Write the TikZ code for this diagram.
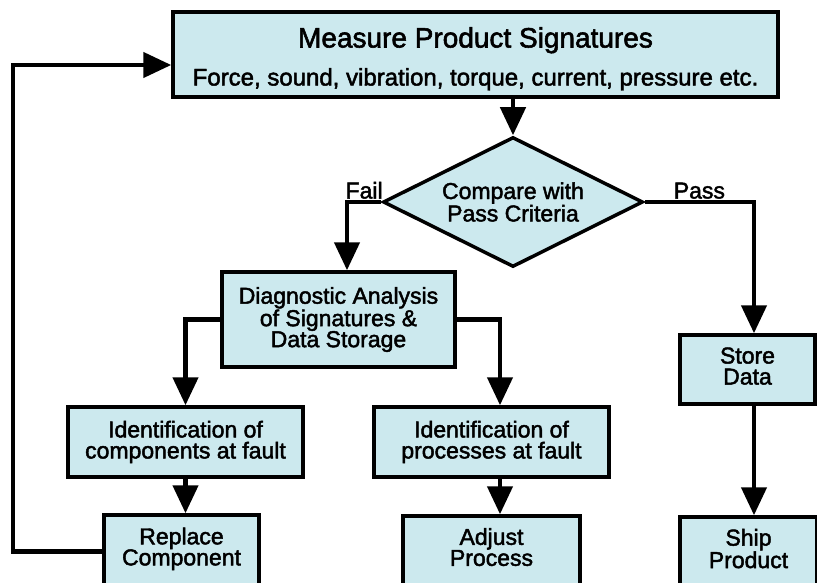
\documentclass[tikz,border=0pt]{standalone}
\usepackage{fontspec}
\setmainfont{Liberation Sans}[FakeBold=2]
\usetikzlibrary{positioning, shapes.geometric, arrows.meta}
\definecolor{boxfill}{RGB}{204,233,238}

\begin{document}
\begin{tikzpicture}[x=1pt, y=-1pt,
        box/.style={draw, fill=boxfill, line width=3.5pt, align=center, inner sep=0pt,
            font=\fontsize{23}{21}\selectfont},
        flow/.style={line width=4.5pt, -{Triangle[length=28pt, width=25pt]}},
        tag/.style={inner sep=1pt, font=\fontsize{23}{23}\selectfont}]
            \useasboundingbox (0,0) rectangle (817,583);
            \node[box, minimum width=605pt, minimum height=85pt, font=\fontsize{24}{38}\selectfont] (measure) at (475.5,54.5)
                {\rule{0pt}{29pt}{\fontsize{28}{28}\selectfont Measure Product Signatures}\\Force, sound, vibration, torque, current, pressure etc.};
            \node[box, diamond, shape aspect=2, minimum width=260pt, minimum height=130pt] (compare) at (513,202) {Compare with\\Pass Criteria};
            \node[box, minimum width=233pt, minimum height=95pt] (diag) at (338.5,319.5) {Diagnostic Analysis\\of Signatures \&\\Data Storage};
            \node[box, minimum width=235pt, minimum height=70pt] (comp) at (185.5,442) {Identification of\\components at fault};
            \node[box, minimum width=235pt, minimum height=70pt] (proc) at (491.5,442) {Identification of\\processes at fault};
            \node[box, minimum width=155pt, minimum height=73pt] (repl) at (181.5,551.5) {Replace\\Component\rule[-10pt]{0pt}{10pt}};
            \node[box, minimum width=177pt, minimum height=72pt] (adjust) at (491.5,552) {Adjust\\Process\rule[-10pt]{0pt}{10pt}};
            \node[box, minimum width=135pt, minimum height=69pt] (store) at (747.5,369.5) {Store\\Data\rule[-7pt]{0pt}{7pt}};
            \node[box, minimum width=137pt, minimum height=71pt] (ship) at (748.5,552.5) {Ship\\Product\rule[-8pt]{0pt}{8pt}};
            \coordinate (fail) at (347,202);
            \coordinate (pass) at (754,202);
            \coordinate (loop) at (13,65);
            \draw[flow] (measure.south -| compare.north) -- (compare.north);
            \draw[flow] (compare.west) -- node[tag, above] (faillbl) {Fail} (fail) -- (fail |- diag.north);
            \draw[flow] (compare.east) -- node[tag, above] (passlbl) {Pass} (pass) -- (pass |- store.north);
            \draw[flow] (pass |- store.south) -- (pass |- ship.north);
            \draw[flow] (diag.west) -| (comp.north);
            \draw[flow] (diag.east) -| ([xshift=8.5pt]proc.north);
            \draw[flow] (comp.south) -- (comp.south |- repl.north);
            \draw[flow] ([xshift=8.5pt]proc.south) -- ([xshift=8.5pt]proc.south |- adjust.north);
            %\draw[flow] (repl.west) -- (loop);
            \draw[flow] (repl.west) -| (loop) -- (loop -| measure.west);
        \end{tikzpicture}
\end{document}
